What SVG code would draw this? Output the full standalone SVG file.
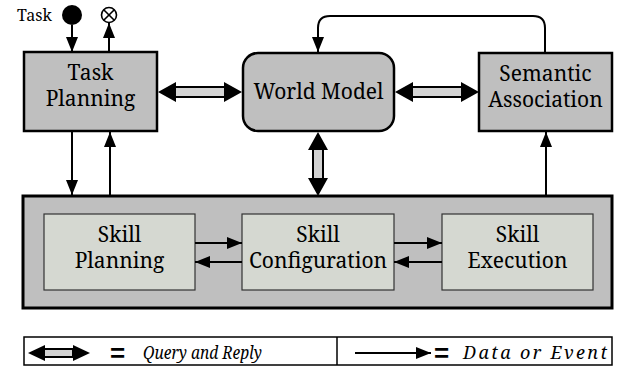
<svg xmlns="http://www.w3.org/2000/svg" width="621" height="378" viewBox="0 0 621 378">
<style>
.box{fill:#bfbfbf;stroke:#000;stroke-width:2.5}
.inner{fill:#d5d8d1;stroke:#333;stroke-width:1.2}
.lbl{font-family:'Noto Serif','DejaVu Serif',serif;font-size:21px;fill:#000;text-anchor:middle}
.ln{fill:none;stroke:#000;stroke-width:2}
.dash{fill:#d3d3d3;stroke:#000;stroke-width:2}
.hd{fill:#000;stroke:none}
.leg{font-family:'Noto Serif','DejaVu Serif',serif;font-style:italic;font-size:18px;fill:#000}
.eq{font-family:'Liberation Sans',Arial,sans-serif;font-weight:bold;font-size:26px;fill:#000}
.tsk{font-family:'Noto Serif','DejaVu Serif',serif;font-size:16px;fill:#000}
</style>
<defs>
<marker id="ah" markerUnits="userSpaceOnUse" markerWidth="16" markerHeight="12" refX="15" refY="6" orient="auto">
<path d="M0,0 L15,6 L0,12 z" fill="#000"/>
</marker>
</defs>
<rect x="0" y="0" width="621" height="378" fill="#fff"/>

<g id="big-box">
<rect x="23" y="196" width="589" height="112" fill="#bfbfbf" stroke="#000" stroke-width="3"/>
</g>
<g id="task-planning">
<rect class="box" x="24" y="52" width="133" height="79"/>
<text class="lbl" x="90.5" y="80">Task</text>
<text class="lbl" x="90.5" y="106">Planning</text>
</g>
<g id="world-model">
<rect class="box" x="243" y="53" width="151" height="78" rx="15" ry="15"/>
<text class="lbl" x="318.5" y="99">World Model</text>
</g>
<g id="semantic-association">
<rect class="box" x="479" y="53" width="133" height="78"/>
<text class="lbl" x="545.5" y="81">Semantic</text>
<text class="lbl" x="545.5" y="107">Association</text>
</g>
<g id="skill-planning">
<rect class="inner" x="44" y="214" width="151" height="76"/>
<text class="lbl" x="119.5" y="242">Skill</text>
<text class="lbl" x="119.5" y="268">Planning</text>
</g>
<g id="skill-configuration">
<rect class="inner" x="242" y="214" width="152" height="76"/>
<text class="lbl" x="318" y="242">Skill</text>
<text class="lbl" x="318" y="268">Configuration</text>
</g>
<g id="skill-execution">
<rect class="inner" x="442" y="214" width="151" height="76"/>
<text class="lbl" x="517.5" y="242">Skill</text>
<text class="lbl" x="517.5" y="268">Execution</text>
</g>
<g id="task-input">
<text class="tsk" x="17" y="21">Task</text>
<circle cx="72" cy="15" r="10" fill="#000"/>
</g>
<g id="task-output">
<circle cx="109" cy="15" r="7.5" fill="#fff" stroke="#000" stroke-width="1.6"/>
<path d="M103.7,9.7 L114.3,20.3 M114.3,9.7 L103.7,20.3" stroke="#000" stroke-width="1.6"/>
</g>

<g id="connectors">
<line class="ln" x1="72" y1="25" x2="72" y2="52" marker-end="url(#ah)"/>
<line class="ln" x1="109" y1="52" x2="109" y2="23" marker-end="url(#ah)"/>
<line class="ln" x1="72" y1="131" x2="72" y2="195" marker-end="url(#ah)"/>
<line class="ln" x1="110" y1="195" x2="110" y2="132" marker-end="url(#ah)"/>
<line class="ln" x1="546" y1="195" x2="546" y2="132" marker-end="url(#ah)"/>
<path class="ln" d="M545,53 L545,28 Q545,16 533,16 L330,16 Q318,16 318,28 L318,52" marker-end="url(#ah)"/>
<line class="ln" x1="195" y1="243" x2="242" y2="243" marker-end="url(#ah)"/>
<line class="ln" x1="242" y1="262" x2="195" y2="262" marker-end="url(#ah)"/>
<line class="ln" x1="394" y1="243" x2="442" y2="243" marker-end="url(#ah)"/>
<line class="ln" x1="442" y1="262" x2="394" y2="262" marker-end="url(#ah)"/>
<rect class="dash" x="174" y="87" width="51" height="10"/>
<path class="hd" d="M158,92 L176,82 L176,102 z M242,92 L224,82 L224,102 z"/>
<rect class="dash" x="411" y="87" width="52" height="10"/>
<path class="hd" d="M395,92 L413,82 L413,102 z M479,92 L461,82 L461,102 z"/>
<rect class="dash" x="313" y="149" width="10" height="30"/>
<path class="hd" d="M318,132 L308,150 L328,150 z M318,196 L308,178 L328,178 z"/>
</g>

<g id="legend">
<rect x="24" y="337" width="588" height="28" fill="#fff" stroke="#000" stroke-width="1.5"/>
<line x1="337" y1="337" x2="337" y2="365" stroke="#000" stroke-width="1.5"/>
<rect class="dash" x="43" y="349" width="30" height="8"/>
<path class="hd" d="M28,353 L45,345 L45,361 z M90,353 L73,345 L73,361 z"/>
<text class="eq" x="110" y="362">=</text>
<text class="leg" x="143" y="359" textLength="119" lengthAdjust="spacingAndGlyphs">Query and Reply</text>
<line class="ln" x1="355" y1="353" x2="431" y2="353" marker-end="url(#ah)"/>
<text class="eq" x="434" y="362">=</text>
<text class="leg" x="463" y="359" textLength="144" lengthAdjust="spacing">Data or Event</text>
</g>
</svg>
